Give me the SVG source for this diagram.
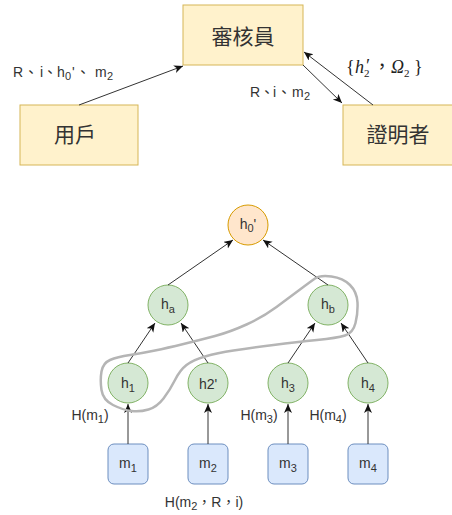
<svg xmlns="http://www.w3.org/2000/svg" width="452" height="515" viewBox="0 0 452 515">
  <style>
    .party { fill: #fff2cc; stroke: #d6b656; stroke-width: 1; }
    .hash { fill: #d5e8d4; stroke: #82b366; stroke-width: 1; }
    .root { fill: #ffe6cc; stroke: #d79b00; stroke-width: 1; }
    .msg { fill: #dae8fc; stroke: #6c8ebf; stroke-width: 1; }
    .edge { fill: none; stroke: #333333; stroke-width: 1; marker-end: url(#arrow); }
    .cjk { font-family: "Liberation Sans", "Noto Sans CJK TC", sans-serif; font-size: 21px; fill: #333333; text-anchor: middle; dominant-baseline: central; }
    .lbl { font-family: "Liberation Sans", "Noto Sans CJK TC", sans-serif; font-size: 14px; fill: #333333; }
    .node { font-family: "Liberation Sans", "Noto Sans CJK TC", sans-serif; font-size: 14px; fill: #333333; text-anchor: middle; }
    .math { font-family: "Liberation Serif", "Noto Sans CJK TC", serif; font-size: 18px; fill: #222222; }
    .sub { font-size: 11px; }
    .loop { fill: none; stroke: #b5b5b5; stroke-width: 2.5; stroke-linejoin: round; }
  </style>
  <defs>
    <marker id="arrow" markerUnits="userSpaceOnUse" markerWidth="10" markerHeight="10" refX="9" refY="4" orient="auto">
      <path d="M0,0 L9,4 L0,8 L2.5,4 Z" fill="#111111"/>
    </marker>
  </defs>

  <!-- protocol parties -->
  <g id="auditor">
    <rect class="party" x="183" y="5" width="120" height="60"/>
    <text class="cjk" x="243" y="36">審核員</text>
  </g>
  <g id="user">
    <rect class="party" x="20" y="105" width="118" height="60"/>
    <text class="cjk" x="75" y="134">用戶</text>
  </g>
  <g id="prover">
    <rect class="party" x="343" y="105" width="120" height="60"/>
    <text class="cjk" x="398" y="134">證明者</text>
  </g>

  <!-- merkle tree nodes -->
  <g id="h0">
    <circle class="root" cx="248" cy="225" r="20"/>
    <text class="node" x="248" y="229">h<tspan class="sub" dy="3">0</tspan><tspan dy="-3">'</tspan></text>
  </g>
  <g id="ha">
    <circle class="hash" cx="168" cy="305" r="20"/>
    <text class="node" x="168" y="309">h<tspan class="sub" dy="4">a</tspan></text>
  </g>
  <g id="hb">
    <circle class="hash" cx="328" cy="305" r="20"/>
    <text class="node" x="328" y="309">h<tspan class="sub" dy="4">b</tspan></text>
  </g>
  <g id="h1">
    <circle class="hash" cx="128" cy="383" r="20"/>
    <text class="node" x="128" y="388">h<tspan class="sub" dy="4">1</tspan></text>
  </g>
  <g id="h2">
    <circle class="hash" cx="208" cy="383" r="20"/>
    <text class="node" x="208" y="389">h2'</text>
  </g>
  <g id="h3">
    <circle class="hash" cx="288" cy="383" r="20"/>
    <text class="node" x="288" y="388">h<tspan class="sub" dy="4">3</tspan></text>
  </g>
  <g id="h4">
    <circle class="hash" cx="368" cy="383" r="20"/>
    <text class="node" x="368" y="388">h<tspan class="sub" dy="4">4</tspan></text>
  </g>
  <g id="m1">
    <rect class="msg" x="108" y="444" width="40" height="40" rx="6"/>
    <text class="node" x="128" y="468">m<tspan class="sub" dy="4">1</tspan></text>
  </g>
  <g id="m2">
    <rect class="msg" x="188" y="444" width="40" height="40" rx="6"/>
    <text class="node" x="208" y="468">m<tspan class="sub" dy="4">2</tspan></text>
  </g>
  <g id="m3">
    <rect class="msg" x="268" y="444" width="40" height="40" rx="6"/>
    <text class="node" x="288" y="468">m<tspan class="sub" dy="4">3</tspan></text>
  </g>
  <g id="m4">
    <rect class="msg" x="348" y="444" width="40" height="40" rx="6"/>
    <text class="node" x="368" y="468">m<tspan class="sub" dy="4">4</tspan></text>
  </g>

  <!-- connectors -->
  <g id="connectors">
    <line class="edge" x1="79" y1="105" x2="183" y2="66"/>
    <line class="edge" x1="303" y1="65" x2="342" y2="103"/>
    <line class="edge" x1="373" y1="105" x2="304" y2="52"/>

    <line class="edge" x1="168" y1="285" x2="233" y2="240"/>
    <line class="edge" x1="328" y1="285" x2="263" y2="240"/>
    <line class="edge" x1="128" y1="363" x2="155" y2="323"/>
    <line class="edge" x1="208" y1="363" x2="181" y2="323"/>
    <line class="edge" x1="288" y1="363" x2="315" y2="323"/>
    <line class="edge" x1="368" y1="363" x2="341" y2="323"/>

    <line class="edge" x1="128" y1="444" x2="128" y2="404"/>
    <line class="edge" x1="208" y1="444" x2="208" y2="404"/>
    <line class="edge" x1="288" y1="444" x2="288" y2="404"/>
    <line class="edge" x1="368" y1="444" x2="368" y2="404"/>
  </g>

  <!-- connector labels -->
  <g id="labels">
    <text class="lbl" y="77"><tspan x="13">R</tspan><tspan x="24">、</tspan><tspan x="40">i</tspan><tspan x="43">、</tspan><tspan x="57">h</tspan><tspan class="sub" x="65" dy="3">0</tspan><tspan x="72" dy="-3">'</tspan><tspan x="76">、</tspan><tspan x="95">m</tspan><tspan class="sub" x="107" dy="3">2</tspan></text>
    <text class="lbl" y="97"><tspan x="250">R</tspan><tspan x="260">、</tspan><tspan x="273">i</tspan><tspan x="277">、</tspan><tspan x="292">m</tspan><tspan class="sub" x="304" dy="3">2</tspan></text>
    <text class="math" y="73"><tspan x="346">{</tspan><tspan x="355" font-style="italic">h</tspan><tspan x="365" font-style="italic" dy="-1">′</tspan><tspan x="364" class="sub" dy="5">2</tspan><tspan x="373" dy="-4">，</tspan><tspan x="391" font-style="italic">Ω</tspan><tspan x="404" class="sub" dy="4">2</tspan><tspan x="414" dy="-4">}</tspan></text>

    <text class="node" x="90" y="420">H(m<tspan class="sub" dy="3">1</tspan><tspan dy="-3">)</tspan></text>
    <text class="node" x="259" y="420">H(m<tspan class="sub" dy="3">3</tspan><tspan dy="-3">)</tspan></text>
    <text class="node" x="328" y="420">H(m<tspan class="sub" dy="3">4</tspan><tspan dy="-3">)</tspan></text>
    <text class="node" x="204" y="507">H(m<tspan class="sub" dy="3">2</tspan><tspan dy="-3">，R，i)</tspan></text>
  </g>

  <!-- hand-drawn selection loop -->
  <path class="loop" d="M315,278.5 Q320,275 331.5,276.5 Q343,278 350,285 Q357,292 357.5,302.5 Q358,313 355.5,323 Q353,333 345,335.5 Q337,338 317,340 Q297,342 273.5,345 Q250,348 233.5,350.5 Q217,353 205,356.5 Q193,360 186.5,365 Q180,370 175,380 Q170,390 163.5,398.5 Q157,407 148.5,409.5 Q140,412 131.5,411 Q123,410 113,405 Q103,400 101.5,390 Q100,380 101.5,371.5 Q103,363 110,360 Q117,357 130,355 Q143,353 155,350.5 Q167,348 183.5,344 Q200,340 215,336 Q230,332 246.5,324.5 Q263,317 276.5,307 Q290,297 300,289.5 Q310,282 315,278.5 Z"/>
</svg>
